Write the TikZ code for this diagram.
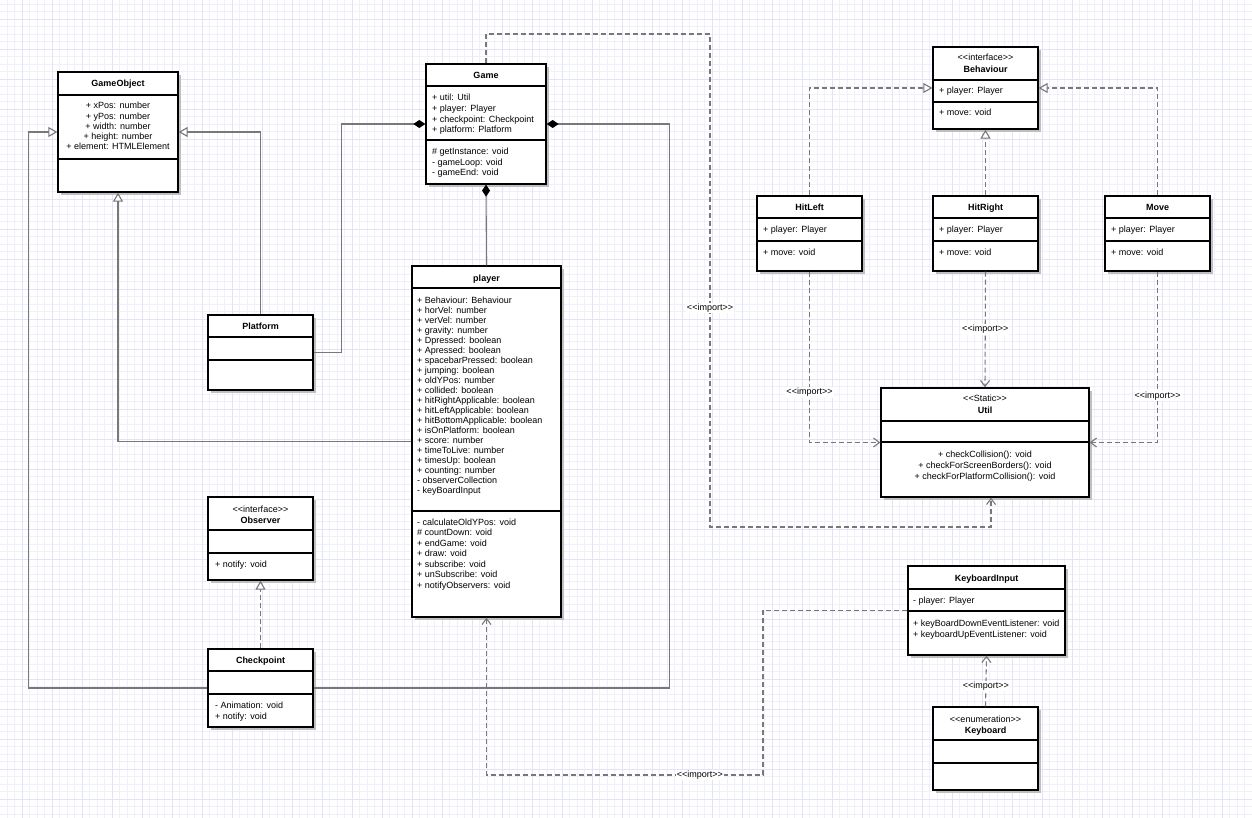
\documentclass[tikz,border=0pt]{standalone}
\usepackage{fontspec}
\setmainfont{Liberation Sans}
\usetikzlibrary{arrows.meta,fit}
\definecolor{gridminor}{RGB}{240,240,252}
\definecolor{gridmajor}{RGB}{226,226,248}
\definecolor{connc}{RGB}{120,120,120}
\newcommand\st[1]{<\kern0pt<#1>\kern0pt>}
\newcommand\umlclass[7]{%
  \fill[shadowbox] ({#2+3},{#3+3}) rectangle ({#4+3},{#5+3});
  \node[classbox, fit={(#2,#3)(#4,#5)}] (#1) {};
  \draw[boxline] (#2,#6) -- (#4,#6);
  \draw[boxline] (#2,#7) -- (#4,#7);
}
\newcommand\txtlines[6]{%
  \foreach \t [count=\i from 0] in {#6}
    \node[txt, anchor=#2] (#1\i) at (#3, {#4+\i*#5}) {\t};
}
\begin{document}
\begin{tikzpicture}[x=1pt,y=-1pt,
  boxline/.style={line width=1.3pt, black},
  classbox/.style={rectangle, draw=black, line width=1.3pt, fill=white, inner sep=0pt},
  shadowbox/.style={fill=black!25},
  txt/.style={inner sep=0pt, font=\fontsize{9}{11}\selectfont},
  txtb/.style={txt, font=\fontsize{9}{11}\selectfont\bfseries},
  conn/.style={draw=connc, line width=1.1pt},
  dep/.style={conn, dash pattern=on 5pt off 3pt},
  inh/.style={-{Triangle[length=9pt, width=10pt, fill=white]}},
  depar/.style={-{Straight Barb[length=6pt, width=9pt]}},
  comp/.style={-{Diamond[length=12pt, width=8pt, color=black]}},
  lbl/.style={fill=white, inner sep=1pt, font=\fontsize{9}{11}\selectfont}
]
\useasboundingbox (0,0) rectangle (1252,818);
\fill[white] (0,0) rectangle (1252,818);
% grid
\foreach \k in {0,...,167} \draw[gridminor, line width=0.8pt] ({-0.5+7.5*\k},0) -- ({-0.5+7.5*\k},818);
\foreach \k in {0,...,108} \draw[gridminor, line width=0.8pt] (0,{4+7.5*\k}) -- (1252,{4+7.5*\k});
\foreach \k in {0,...,41} \draw[gridmajor, line width=0.8pt] ({22+30*\k},0) -- ({22+30*\k},818);
\foreach \k in {0,...,26} \draw[gridmajor, line width=0.8pt] (0,{19+30*\k}) -- (1252,{19+30*\k});

% boxes
\umlclass{gameobject}{58}{72}{178}{192}{95}{159}
\umlclass{game}{426}{64}{546}{184}{86}{140}
\umlclass{player}{412}{266}{561}{617}{288}{511}
\umlclass{platform}{208}{315}{313}{390}{337}{360}
\umlclass{observer}{208}{497}{313}{580}{530}{553}
\umlclass{checkpoint}{208}{649}{313}{727}{671}{694}
\umlclass{behaviour}{933}{47}{1038}{129}{80}{102}
\umlclass{hitleft}{757}{196}{862}{271}{218}{241}
\umlclass{hitright}{933}{196}{1038}{271}{218}{241}
\umlclass{move}{1105}{196}{1210}{271}{218}{241}
\umlclass{util}{881}{388}{1089}{497}{421}{442}
\umlclass{kbinput}{908}{566}{1065}{655}{589}{611}
\umlclass{keyboard}{933}{707}{1038}{790}{740}{763}

% texts
\node[txtb, anchor=base] (gon) at (118,86.3) {GameObject};
\txtlines{goa}{base}{118}{109}{10.25}{+ xPos: number, + yPos: number, + width: number, + height: number, + element: HTMLElement}

\node[txtb, anchor=base] (gan) at (486,78.3) {Game};
\txtlines{gaa}{base west}{432}{101}{10.6}{+ util: Util, + player: Player, + checkpoint: Checkpoint, + platform: Platform}
\txtlines{gam}{base west}{432}{155}{10.5}{\# getInstance: void, - gameLoop: void, - gameEnd: void}

\node[txtb, anchor=base] (pln) at (486.5,281) {player};
\txtlines{pla}{base west}{417}{303}{10}{+ Behaviour: Behaviour, + horVel: number, + verVel: number, + gravity: number, + Dpressed: boolean, + Apressed: boolean, + spacebarPressed: boolean, + jumping: boolean, + oldYPos: number, + collided: boolean, + hitRightApplicable: boolean, + hitLeftApplicable: boolean, + hitBottomApplicable: boolean, + isOnPlatform: boolean, + score: number, + timeToLive: number, + timesUp: boolean, + counting: number, - observerCollection, - keyBoardInput}
\txtlines{plm}{base west}{417}{525}{10.5}{- calculateOldYPos: void, \# countDown: void, + endGame: void, + draw: void, + subscribe: void, + unSubscribe: void, + notifyObservers: void}

\node[txtb, anchor=base] (pfn) at (260.5,329.3) {Platform};

\node[txt, anchor=base] (obs) at (260.5,512) {\st{interface}};
\node[txtb, anchor=base] (obn) at (260.5,523.5) {Observer};
\node[txt, anchor=base west] (obm) at (215,567) {+ notify: void};

\node[txtb, anchor=base] (cpn) at (260.5,663.3) {Checkpoint};
\txtlines{cpm}{base west}{215}{708}{11}{- Animation: void, + notify: void}

\node[txt, anchor=base] (bes) at (985.5,61) {\st{interface}};
\node[txtb, anchor=base] (ben) at (985.5,72.5) {Behaviour};
\node[txt, anchor=base west] (bea) at (939,94) {+ player: Player};
\node[txt, anchor=base west] (bem) at (939,116) {+ move: void};

\node[txtb, anchor=base] (hln) at (809.5,210.3) {HitLeft};
\node[txt, anchor=base west] (hla) at (763,233) {+ player: Player};
\node[txt, anchor=base west] (hlm) at (763,255) {+ move: void};

\node[txtb, anchor=base] (hrn) at (985.5,210.3) {HitRight};
\node[txt, anchor=base west] (hra) at (939,233) {+ player: Player};
\node[txt, anchor=base west] (hrm) at (939,255) {+ move: void};

\node[txtb, anchor=base] (mvn) at (1157.5,210.3) {Move};
\node[txt, anchor=base west] (mva) at (1111,233) {+ player: Player};
\node[txt, anchor=base west] (mvm) at (1111,255) {+ move: void};

\node[txt, anchor=base] (uts) at (985,401) {\st{Static}};
\node[txtb, anchor=base] (utn) at (985,413.3) {Util};
\txtlines{utm}{base}{985}{457}{11}{+ checkCollision(): void, + checkForScreenBorders(): void, + checkForPlatformCollision(): void}

\node[txtb, anchor=base] (kin) at (986.5,581.3) {KeyboardInput};
\node[txt, anchor=base west] (kia) at (913,603) {- player: Player};
\txtlines{kim}{base west}{913}{626}{11}{+ keyBoardDownEventListener: void, + keyboardUpEventListener: void}

\node[txt, anchor=base] (kbs) at (985.5,722) {\st{enumeration}};
\node[txtb, anchor=base] (kbn) at (985.5,733.5) {Keyboard};

% connectors
\draw[conn, inh] (checkpoint.west) -- ++(-179,0) |- (gameobject.west);
\draw[conn, inh] (platform.north) |- (gameobject.east);
\draw[conn, inh] (player.west) -| (gameobject.south);
\draw[conn, comp] (platform.east) -- ++(28,0) |- (game.west);
\draw[conn, comp] (checkpoint.east) -- ++(356,0) |- (game.east);
\draw[conn, comp] (player.north) -- (game.south);

\coordinate (g1) at (710,34);
\coordinate (g2) at (710,527);
\draw[dep, depar] (game.north) |- (g1) -- node[lbl, pos=0.556] (l1) {\st{import}} (g2) -| ([xshift=6pt]util.south);

\draw[dep, inh] (hitleft.north) |- (behaviour.west);
\draw[dep, inh] (move.north) |- (behaviour.east);
\draw[dep, inh] (hitright.north) -- (behaviour.south);

\draw[dep, depar] (hitleft.south) |- node[lbl, pos=0.354] (l2) {\st{import}} (util.west);
\draw[dep, depar] (move.south) |- node[lbl, pos=0.363] (l3) {\st{import}} (util.east);
\draw[dep, depar] (hitright.south) -- node[lbl, pos=0.5] (l4) {\st{import}} (util.north);
\draw[dep, depar] (keyboard.north) -- node[lbl, pos=0.4] (l5) {\st{import}} (kbinput.south);

\coordinate (k1) at (763,775);
\draw[dep, depar] (kbinput.west) -| (k1) -| node[lbl, pos=0.114] (l6) {\st{import}} (player.south);

\draw[dep, inh] (checkpoint.north) -- (observer.south);
\end{tikzpicture}
\end{document}
